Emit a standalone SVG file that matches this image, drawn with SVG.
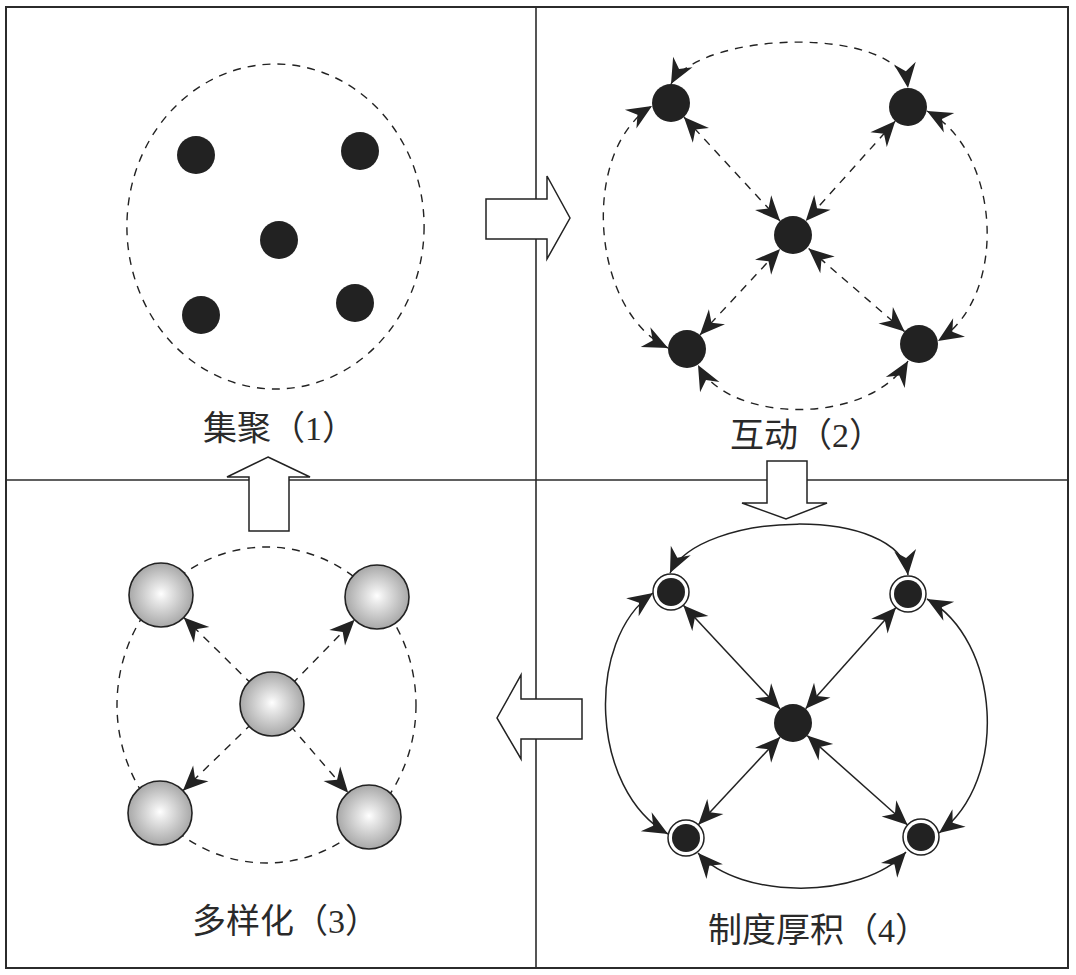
<svg xmlns="http://www.w3.org/2000/svg" width="1076" height="975" viewBox="0 0 1076 975">
<style>
.frame{fill:#fff;stroke:#2b2b2b;stroke-width:2}
.div{stroke:#2b2b2b;stroke-width:1.6}
.dash{fill:none;stroke:#222;stroke-width:1.4;stroke-dasharray:8 7}
.solid{fill:none;stroke:#222;stroke-width:1.5}
.arr{marker-start:url(#ah);marker-end:url(#ah)}
.arrE{marker-end:url(#ah)}
.dot{fill:#222}
.ring{fill:#fff;stroke:#222;stroke-width:1.5}
.ball{fill:url(#g);stroke:#222;stroke-width:1.6}
.block{fill:#fff;stroke:#222;stroke-width:1.5;stroke-linejoin:miter}
.lbl{font-family:"Liberation Serif","Noto Sans CJK SC",serif;font-size:34px;fill:#2a2a2a}
</style>
<defs>
<marker id="ah" viewBox="-27 -13 29 26" refX="0" refY="0" markerWidth="29" markerHeight="26" markerUnits="userSpaceOnUse" orient="auto-start-reverse">
<path d="M0,0 L-25,-11 L-17,0 L-25,11 Z" fill="#222"/>
</marker>
<radialGradient id="g" cx="0.5" cy="0.5" r="0.5" fx="0.5" fy="0.48">
<stop offset="0" stop-color="#ffffff"/>
<stop offset="0.2" stop-color="#ececec"/>
<stop offset="1" stop-color="#a8a8a8"/>
</radialGradient>
</defs>

<g id="frame">
<rect class="frame" x="6" y="7" width="1062" height="961"/>
<line class="div" x1="536" y1="7" x2="536" y2="968"/>
<line class="div" x1="6" y1="480" x2="1068" y2="480"/>
</g>

<g id="connectors">
<!-- Q1 -->
<ellipse class="dash" cx="275.5" cy="226.5" rx="148.6" ry="162.5"/>
<!-- Q2 -->
<path class="dash arr" d="M671,84 C700,30 900,25 908,88"/>
<path class="dash arr" d="M927,111 C1000,150 1010,295 938,341"/>
<path class="dash arr" d="M908,361 C870,425 730,425 698,365"/>
<path class="dash arr" d="M668,348 C590,310 580,150 652,106"/>
<path class="dash arr" d="M683.9,117 L780.1,221"/>
<path class="dash arr" d="M895.3,121.1 L805.7,220.9"/>
<path class="dash arr" d="M699.9,335.1 L780.1,248.9"/>
<path class="dash arr" d="M904.6,331.6 L808.6,248.5"/>
<!-- Q3 -->
<ellipse class="dash" cx="266.5" cy="705" rx="149.5" ry="158"/>
<path class="dash arrE" d="M252,684.4 L183.8,617.4"/>
<path class="dash arrE" d="M292,684 L354.6,619.8"/>
<path class="dash arrE" d="M251.9,723.5 L182.9,790.7"/>
<path class="dash arrE" d="M290.2,725.6 L348.2,792.7"/>
<!-- Q4 -->
<path class="solid arr" d="M670,573 C700,510 900,505 908,575"/>
<path class="solid arr" d="M927,599 C1000,640 1010,780 939,833"/>
<path class="solid arr" d="M906,852 C862,900 740,900 698,853"/>
<path class="solid arr" d="M668,834 C590,790 585,640 653,593"/>
<path class="solid arr" d="M683.3,605.2 L780.1,709.1"/>
<path class="solid arr" d="M896,607.4 L805.6,708.8"/>
<path class="solid arr" d="M698.3,824.8 L780.1,736.9"/>
<path class="solid arr" d="M907.6,825 L807.2,735.6"/>
</g>

<g id="q1-nodes">
<circle id="q1-a" class="dot" cx="196" cy="155" r="19"/>
<circle id="q1-b" class="dot" cx="360" cy="151" r="19"/>
<circle id="q1-c" class="dot" cx="279" cy="240" r="19"/>
<circle id="q1-d" class="dot" cx="201" cy="315" r="19"/>
<circle id="q1-e" class="dot" cx="355" cy="303" r="19"/>
</g>

<g id="q2-nodes">
<circle id="q2-tl" class="dot" cx="671" cy="103" r="19"/>
<circle id="q2-tr" class="dot" cx="908" cy="107" r="19"/>
<circle id="q2-c" class="dot" cx="793" cy="235" r="19"/>
<circle id="q2-bl" class="dot" cx="687" cy="349" r="19"/>
<circle id="q2-br" class="dot" cx="919" cy="344" r="19"/>
</g>

<g id="q3-nodes">
<circle id="q3-tl" class="ball" cx="161" cy="595" r="32"/>
<circle id="q3-tr" class="ball" cx="377" cy="597" r="32"/>
<circle id="q3-c" class="ball" cx="272" cy="704" r="32"/>
<circle id="q3-bl" class="ball" cx="160" cy="813" r="32"/>
<circle id="q3-br" class="ball" cx="369" cy="817" r="32"/>
</g>

<g id="q4-nodes">
<g id="q4-tl"><circle class="ring" cx="671" cy="592" r="18"/><circle class="dot" cx="671" cy="592" r="14"/></g>
<g id="q4-tr"><circle class="ring" cx="908" cy="594" r="18"/><circle class="dot" cx="908" cy="594" r="14"/></g>
<circle id="q4-c" class="dot" cx="793" cy="723" r="19"/>
<g id="q4-bl"><circle class="ring" cx="686" cy="838" r="18"/><circle class="dot" cx="686" cy="838" r="14"/></g>
<g id="q4-br"><circle class="ring" cx="921" cy="837" r="18"/><circle class="dot" cx="921" cy="837" r="14"/></g>
</g>

<g id="block-arrows">
<polygon id="arrow-right" class="block" points="486,199 547,199 547,176 570,218 547,259 547,239 486,239"/>
<polygon id="arrow-down" class="block" points="767,461 807,461 807,503 827,503 786,519 742,503 767,503"/>
<polygon id="arrow-left" class="block" points="582,699 521,699 521,675 497,718 521,759 521,739 582,739"/>
<polygon id="arrow-up" class="block" points="268,457 310,477 289,477 289,531 249,531 249,477 227,477"/>
</g>

<g id="labels">
<text class="lbl" x="203" y="440">集聚（1）</text>
<text class="lbl" x="730" y="447">互动（2）</text>
<text class="lbl" x="192" y="933">多样化（3）</text>
<text class="lbl" x="708" y="942">制度厚积（4）</text>
</g>
</svg>
